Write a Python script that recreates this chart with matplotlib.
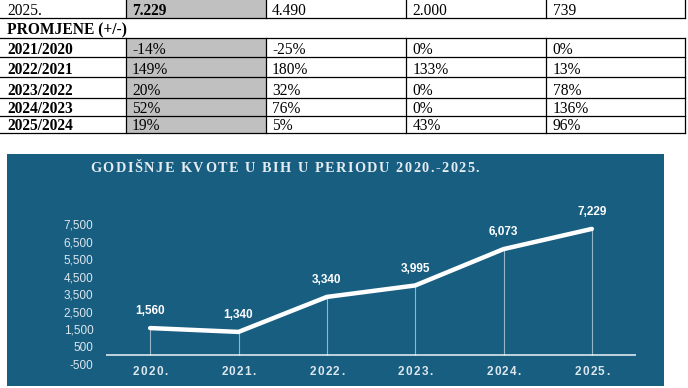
import matplotlib.pyplot as plt
from matplotlib.patches import Rectangle
from matplotlib.font_manager import FontProperties

# table data (top part, cut off at the first row)
first_row = ["2025.", "7.229", "4.490", "2.000", "739"]
section_title = "PROMJENE (+/-)"
change_labels = ["2021/2020", "2022/2021", "2023/2022", "2024/2023", "2025/2024"]
change_total = ["-14%", "149%", "20%", "52%", "19%"]
change_c2 = ["-25%", "180%", "32%", "76%", "5%"]
change_c3 = ["0%", "133%", "0%", "0%", "43%"]
change_c4 = ["0%", "13%", "78%", "136%", "96%"]

# chart data
chart_title = "GODIŠNJE KVOTE U BIH U PERIODU 2020.-2025."
years = ["2020.", "2021.", "2022.", "2023.", "2024.", "2025."]
quotas = [1560, 1340, 3340, 3995, 6073, 7229]
yticks = [-500, 500, 1500, 2500, 3500, 4500, 5500, 6500, 7500]

W, H = 688, 388
bg = "#185e81"
light = "#dde7ee"

fig = plt.figure(figsize=(W / 100, H / 100), dpi=100)
renderer = fig.canvas.get_renderer()
base = fig.add_axes([0, 0, 1, 1])
base.set_xlim(0, W)
base.set_ylim(H, 0)
base.axis("off")


def text_width(s, prop):
    if s == " ":
        return text_width("a a", prop) - text_width("aa", prop)
    w, _, _ = renderer.get_text_width_height_descent(s, prop, ismath=False)
    return w


def spaced_text(x, y, s, spacing, prop, color, align="left"):
    # letter-spaced text, x/y in pixels of the base axes
    widths = [text_width(ch, prop) for ch in s]
    total = sum(widths) + spacing * (len(s) - 1)
    if align == "center":
        x -= total / 2
    for ch, w in zip(s, widths):
        base.text(x, y, ch, fontproperties=prop, color=color, va="center", ha="left")
        x += w + spacing


# ---- table ----
col_x = [-2, 125.5, 265.5, 406, 546, 685]
row_y = [-5, 17.5, 37.5, 57, 77.3, 97.5, 115.5, 133]
serif = "Liberation Serif"
fs = 11.2

# grey column
base.add_patch(Rectangle((col_x[1], row_y[0]), col_x[2] - col_x[1], row_y[1] - row_y[0],
                         color="#c0c0c0", lw=0))
base.add_patch(Rectangle((col_x[1], row_y[2]), col_x[2] - col_x[1], row_y[-1] - row_y[2],
                         color="#c0c0c0", lw=0))

for y in row_y[1:]:
    base.plot([col_x[0], col_x[-1]], [y, y], color="black", lw=0.9)
for x in col_x:
    base.plot([x, x], [row_y[0], row_y[1]], color="black", lw=0.9)
    base.plot([x, x], [row_y[2], row_y[-1]], color="black", lw=0.9)


def cell(col, row, txt, bold=False):
    x = 7 if col == 0 else col_x[col] + 6.5
    base.text(x, row_y[row + 1] - 2.8, txt, family=serif, fontsize=fs,
              fontweight="bold" if bold else "normal", va="baseline", ha="left")


for c, t in enumerate(first_row):
    cell(c, 0, t, bold=(c == 1))
cell(0, 1, section_title, bold=True)
cols = [change_labels, change_total, change_c2, change_c3, change_c4]
for r in range(len(change_labels)):
    for c, vals in enumerate(cols):
        cell(c, r + 2, vals[r], bold=(c == 0))

# ---- chart panel ----
base.add_patch(Rectangle((7, 154), 657, 232, color=bg, lw=0))
title_prop = FontProperties(family=serif, weight="bold", size=10.3)
spaced_text(90, 169, chart_title, 1.5, title_prop, "#e6edf2")

left, right, top, bottom = 106, 636, 215.4, 364.1
ax = fig.add_axes([left / W, 1 - bottom / H, (right - left) / W, (bottom - top) / H])
ax.patch.set_alpha(0)
ax.set_xlim(-0.5, len(years) - 0.5)
ax.set_ylim(-500, 8000)
for s in ax.spines.values():
    s.set_visible(False)

xs = list(range(len(years)))
ax.axhline(0, color=light, lw=1.2)
ax.vlines(xs, 0, quotas, color="white", alpha=0.55, lw=0.8)
ax.plot(xs, quotas, color="white", lw=3.2, solid_capstyle="round", solid_joinstyle="round")
for x, v in zip(xs, quotas):
    ax.annotate(f"{v:,}", (x, v), xytext=(0, 12), textcoords="offset points",
                ha="center", va="center", color="white", fontweight="bold",
                family="Liberation Sans", fontsize=8.5, annotation_clip=False)

ax.set_xticks([])
ax.set_yticks(yticks)
ax.set_yticklabels([f"{t:,}" for t in yticks], family="Liberation Sans", fontsize=8.5, color=light)
ax.tick_params(length=0)
ax.tick_params(axis="y", pad=9)

# letter-spaced year labels under the baseline, placed through the data transform
year_prop = FontProperties(family="Liberation Sans", weight="bold", size=8.5)
for x, lab in zip(xs, years):
    px, py = ax.transData.transform((x, 0))
    spaced_text(px, H - py + 16.5, lab, 1.3, year_prop, light, align="center")

fig.savefig("out.png", dpi=100)
